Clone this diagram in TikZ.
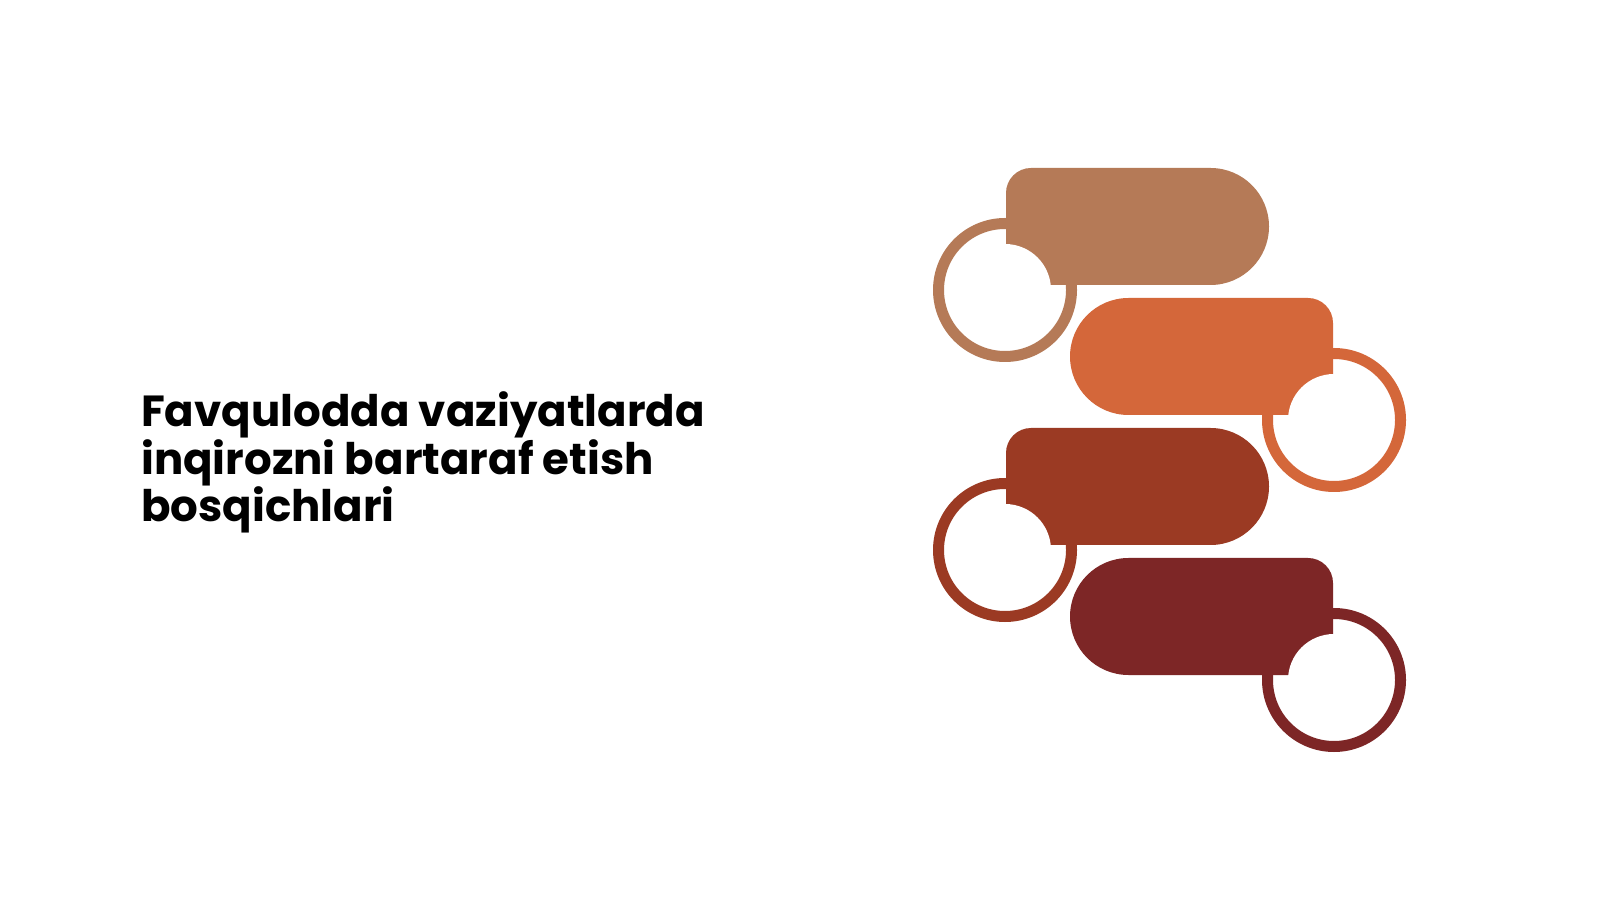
\documentclass[tikz,border=0pt]{standalone}
\usepackage{fontspec}
\setmainfont{Poppins}
\definecolor{cA}{HTML}{B57A57}
\definecolor{cB}{HTML}{D4673A}
\definecolor{cC}{HTML}{9B3A23}
\definecolor{cD}{HTML}{7D2626}
\begin{document}
\begin{tikzpicture}[x=1pt,y=1pt,
  ring/.style={line width=11pt,draw=#1,fill=none},
  bite/.style={fill=white,draw=none},
  title/.style={anchor=base west,inner sep=0pt,font=\fontsize{43.5}{47}\selectfont\bfseries}]
\useasboundingbox[fill=white] (0,0) rectangle (1600,900);
% step 1
\draw[ring=cA] (1005,610) circle[radius=66.5];
\fill[cA] (1006,615) -- (1006,707) arc[start angle=180,end angle=90,radius=25]
  -- (1210.5,732) arc[start angle=90,end angle=-90,radius=58.5] -- cycle;
\fill[bite] (1005,610) circle[radius=46];
% step 2
\draw[ring=cB] (1334,480) circle[radius=66.5];
\fill[cB] (1333,485) -- (1128.5,485) arc[start angle=270,end angle=90,radius=58.5]
  -- (1308,602) arc[start angle=90,end angle=0,radius=25] -- cycle;
\fill[bite] (1334,480) circle[radius=46];
% step 3
\draw[ring=cC] (1005,350) circle[radius=66.5];
\fill[cC] (1006,355) -- (1006,447) arc[start angle=180,end angle=90,radius=25]
  -- (1210.5,472) arc[start angle=90,end angle=-90,radius=58.5] -- cycle;
\fill[bite] (1005,350) circle[radius=46];
% step 4
\draw[ring=cD] (1334,220) circle[radius=66.5];
\fill[cD] (1333,225) -- (1128.5,225) arc[start angle=270,end angle=90,radius=58.5]
  -- (1308,342) arc[start angle=90,end angle=0,radius=25] -- cycle;
\fill[bite] (1334,220) circle[radius=46];
% title
\node[title] (t1) at (141,473) {Favqulodda vaziyatlarda};
\node[title] (t2) at (141,425.5) {inqirozni bartaraf etish};
\node[title] (t3) at (141,378) {bosqichlari};
\end{tikzpicture}
\end{document}
